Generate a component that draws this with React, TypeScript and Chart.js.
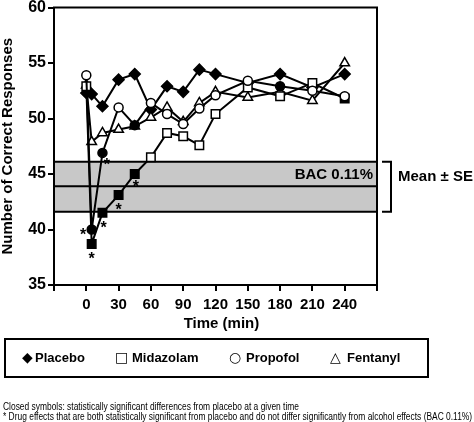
import React, { useEffect, useRef } from "react";
import { Chart, registerables, type ChartConfiguration, type Plugin } from "chart.js";

Chart.register(...registerables);

// sampling times (min) shared by all four groups
const times = [0, 5, 15, 30, 45, 60, 75, 90, 105, 120, 150, 180, 210, 240];
const timeTickLabels = [0, 30, 60, 90, 120, 150, 180, 210, 240];

const seriesNames = ["Placebo", "Midazolam", "Propofol", "Fentanyl"];
const legendGlyphs = ["\u25C6", "\u25A1", "\u25CB", "\u25B3"];

const placeboValues = [52.3, 52.2, 51.1, 53.5, 54.0, 50.8, 52.9, 52.4, 54.4, 54.0, 53.2, 54.0, 52.8, 54.0];
const midazolamValues = [52.9, 38.7, 41.5, 43.1, 45.0, 46.5, 48.7, 48.4, 47.6, 50.4, 52.8, 52.0, 53.2, 51.8];
const propofolValues = [53.9, 40.0, 46.9, 51.0, 49.4, 51.4, 50.4, 49.5, 50.9, 52.1, 53.4, 52.9, 52.5, 52.0];
const fentanylValues = [53.0, 47.9, 48.7, 49.0, 49.3, 50.1, 51.0, 49.7, 51.4, 52.4, 51.9, 52.4, 51.6, 55.0];

// closed symbols = significant difference from placebo
const midazolamClosed = [0, 1, 1, 1, 1, 0, 0, 0, 0, 0, 0, 0, 0, 1];
const propofolClosed = [0, 1, 1, 0, 1, 0, 0, 0, 0, 0, 0, 1, 0, 0];
const fentanylClosed = [0, 0, 0, 0, 0, 0, 0, 0, 0, 0, 0, 0, 0, 0];

// asterisks (time, value)
const starTimes = [-3, 5, 16, 30, 46, 19];
const starValues = [39.85, 37.7, 40.5, 42.1, 44.2, 46.2];

// alcohol reference band (BAC 0.11%), mean ± SE
const bandLow = 41.6;
const bandMean = 43.9;
const bandHigh = 46.1;
const bandLabel = "BAC 0.11%";
const bracketLabel = "Mean \u00B1 SE";

const xTitle = "Time (min)";
const yTitle = "Number of Correct Responses";
const footnotes = [
  "Closed symbols: statistically significant differences from placebo at a given time",
  "* Drug effects that are both statistically significant from placebo and do not differ significantly from alcohol effects (BAC 0.11%)",
];

const FONT = "'Liberation Sans', Arial, sans-serif";

const overlay: Plugin<"line"> = {
  id: "overlay",
  beforeDatasetsDraw(chart) {
    const { ctx, chartArea: a, scales } = chart;
    const y = scales.y;
    const top = y.getPixelForValue(bandHigh);
    const mid = y.getPixelForValue(bandMean);
    const bot = y.getPixelForValue(bandLow);
    ctx.save();
    ctx.fillStyle = "#c8c8c8";
    ctx.fillRect(a.left, top, a.right - a.left, bot - top);
    ctx.strokeStyle = "#000";
    ctx.lineWidth = 2;
    ctx.beginPath();
    for (const p of [top, mid, bot]) {
      ctx.moveTo(a.left, p);
      ctx.lineTo(a.right, p);
    }
    ctx.stroke();
    ctx.fillStyle = "#000";
    ctx.font = `bold 15px ${FONT}`;
    ctx.textAlign = "right";
    ctx.textBaseline = "middle";
    ctx.fillText(bandLabel, a.right - 4, (top + mid) / 2 + 1);

    // bracket on the right
    ctx.beginPath();
    ctx.moveTo(a.right + 5, top);
    ctx.lineTo(a.right + 14, top);
    ctx.lineTo(a.right + 14, bot);
    ctx.lineTo(a.right + 5, bot);
    ctx.stroke();
    ctx.textAlign = "left";
    ctx.fillText(bracketLabel, a.right + 21, mid - 9);
    ctx.restore();
  },
  afterDatasetsDraw(chart) {
    const { ctx, chartArea: a, scales } = chart;
    ctx.save();
    ctx.fillStyle = "#000";
    ctx.font = `bold 16px ${FONT}`;
    ctx.textAlign = "center";
    ctx.textBaseline = "alphabetic";
    starTimes.forEach((t, i) => {
      ctx.fillText("*", scales.x.getPixelForValue(t), scales.y.getPixelForValue(starValues[i]) + 9);
    });
    ctx.strokeStyle = "#000";
    ctx.lineWidth = 2;
    ctx.strokeRect(a.left, a.top, a.right - a.left, a.bottom - a.top);
    ctx.restore();
  },
  afterDraw(chart) {
    const { ctx, chartArea: a } = chart;
    ctx.save();
    ctx.fillStyle = "#000";
    ctx.textBaseline = "middle";

    // axis titles
    ctx.font = `bold 15px ${FONT}`;
    ctx.textAlign = "center";
    ctx.fillText(xTitle, (a.left + a.right) / 2 + 6, a.bottom + 39);
    ctx.save();
    ctx.translate(8, (a.top + a.bottom) / 2);
    ctx.rotate(-Math.PI / 2);
    ctx.font = `bold 15px ${FONT}`;
    ctx.fillText(yTitle, 0, 0);
    ctx.restore();

    // legend box
    ctx.strokeStyle = "#000";
    ctx.lineWidth = 2;
    ctx.strokeRect(5, 339, 423, 38);
    const glyphX = [22, 115, 229, 330];
    const textX = [35, 132, 246, 347];
    ctx.textAlign = "left";
    seriesNames.forEach((name, i) => {
      ctx.font = `14px 'DejaVu Sans', sans-serif`;
      ctx.fillText(legendGlyphs[i], glyphX[i], 358);
      ctx.font = `bold 13px ${FONT}`;
      ctx.fillText(name, textX[i], 358);
    });

    // footnotes
    ctx.font = `10px ${FONT}`;
    ctx.textBaseline = "alphabetic";
    const sx = 296 / ctx.measureText(footnotes[0]).width;
    footnotes.forEach((line, i) => {
      ctx.save();
      ctx.translate(3, 410 + i * 9.5);
      ctx.scale(sx, 1);
      ctx.fillText(line, 0, 0);
      ctx.restore();
    });
    ctx.restore();
  },
};

function points(values: number[]) {
  return times.map((t, i) => ({ x: t, y: values[i] }));
}

function fills(closed: number[]) {
  return closed.map((c) => (c ? "#000" : "#fff"));
}

export default function App() {
  const canvasRef = useRef<HTMLCanvasElement | null>(null);
  const chartRef = useRef<Chart<"line"> | null>(null);

  useEffect(() => {
    document.body.style.margin = "0";
    if (!canvasRef.current) return;

    const common = {
      borderColor: "#000",
      borderWidth: 2,
      pointBorderColor: "#000",
      pointBorderWidth: 1.5,
      tension: 0,
    };

    const config: ChartConfiguration<"line"> = {
      type: "line",
      data: {
        datasets: [
          {
            ...common,
            label: seriesNames[0],
            data: points(placeboValues),
            pointStyle: "rectRot",
            pointRadius: 5.5,
            pointBackgroundColor: "#000",
            order: 4,
          },
          {
            ...common,
            label: seriesNames[1],
            data: points(midazolamValues),
            pointStyle: "rect",
            pointRadius: 6,
            pointBackgroundColor: fills(midazolamClosed),
            order: 2,
          },
          {
            ...common,
            label: seriesNames[2],
            data: points(propofolValues),
            pointStyle: "circle",
            pointRadius: 4.5,
            pointBackgroundColor: fills(propofolClosed),
            order: 1,
          },
          {
            ...common,
            label: seriesNames[3],
            data: points(fentanylValues),
            pointStyle: "triangle",
            pointRadius: 5.5,
            pointBackgroundColor: fills(fentanylClosed),
            order: 3,
          },
        ],
      },
      options: {
        responsive: true,
        maintainAspectRatio: false,
        animation: false,
        layout: { padding: { left: 0, right: 97, top: 5, bottom: 0 } },
        plugins: {
          legend: { display: false },
          tooltip: { enabled: false },
        },
        scales: {
          x: {
            type: "linear",
            min: -30,
            max: 270,
            afterFit: (scale) => {
              scale.height = 137;
              scale.paddingLeft = 0;
              scale.paddingRight = 0;
            },
            ticks: {
              stepSize: 30,
              autoSkip: false,
              maxRotation: 0,
              padding: 5,
              color: "#000",
              font: { family: FONT, size: 15, weight: "bold" },
              callback: (v) => (timeTickLabels.includes(Number(v)) ? String(v) : ""),
            },
            grid: {
              drawOnChartArea: false,
              drawTicks: true,
              tickLength: 6,
              color: "#000",
              lineWidth: 2,
            },
            border: { display: true, color: "#000", width: 2 },
          },
          y: {
            min: 35,
            max: 60,
            afterFit: (scale) => {
              scale.width = 54;
              scale.paddingTop = 0;
              scale.paddingBottom = 0;
            },
            ticks: {
              stepSize: 5,
              padding: 2,
              color: "#000",
              font: { family: FONT, size: 16, weight: "bold" },
            },
            grid: {
              drawOnChartArea: false,
              drawTicks: true,
              tickLength: 6,
              color: "#000",
              lineWidth: 2,
            },
            border: { display: true, color: "#000", width: 2 },
          },
        },
      },
      plugins: [overlay],
    };

    chartRef.current = new Chart(canvasRef.current, config);

    return () => {
      chartRef.current?.destroy();
      chartRef.current = null;
    };
  }, []);

  return (
    <div style={{ width: 474, height: 422, position: "relative" }}>
      <canvas ref={canvasRef} aria-label="Number of correct responses over time by treatment" />
    </div>
  );
}
